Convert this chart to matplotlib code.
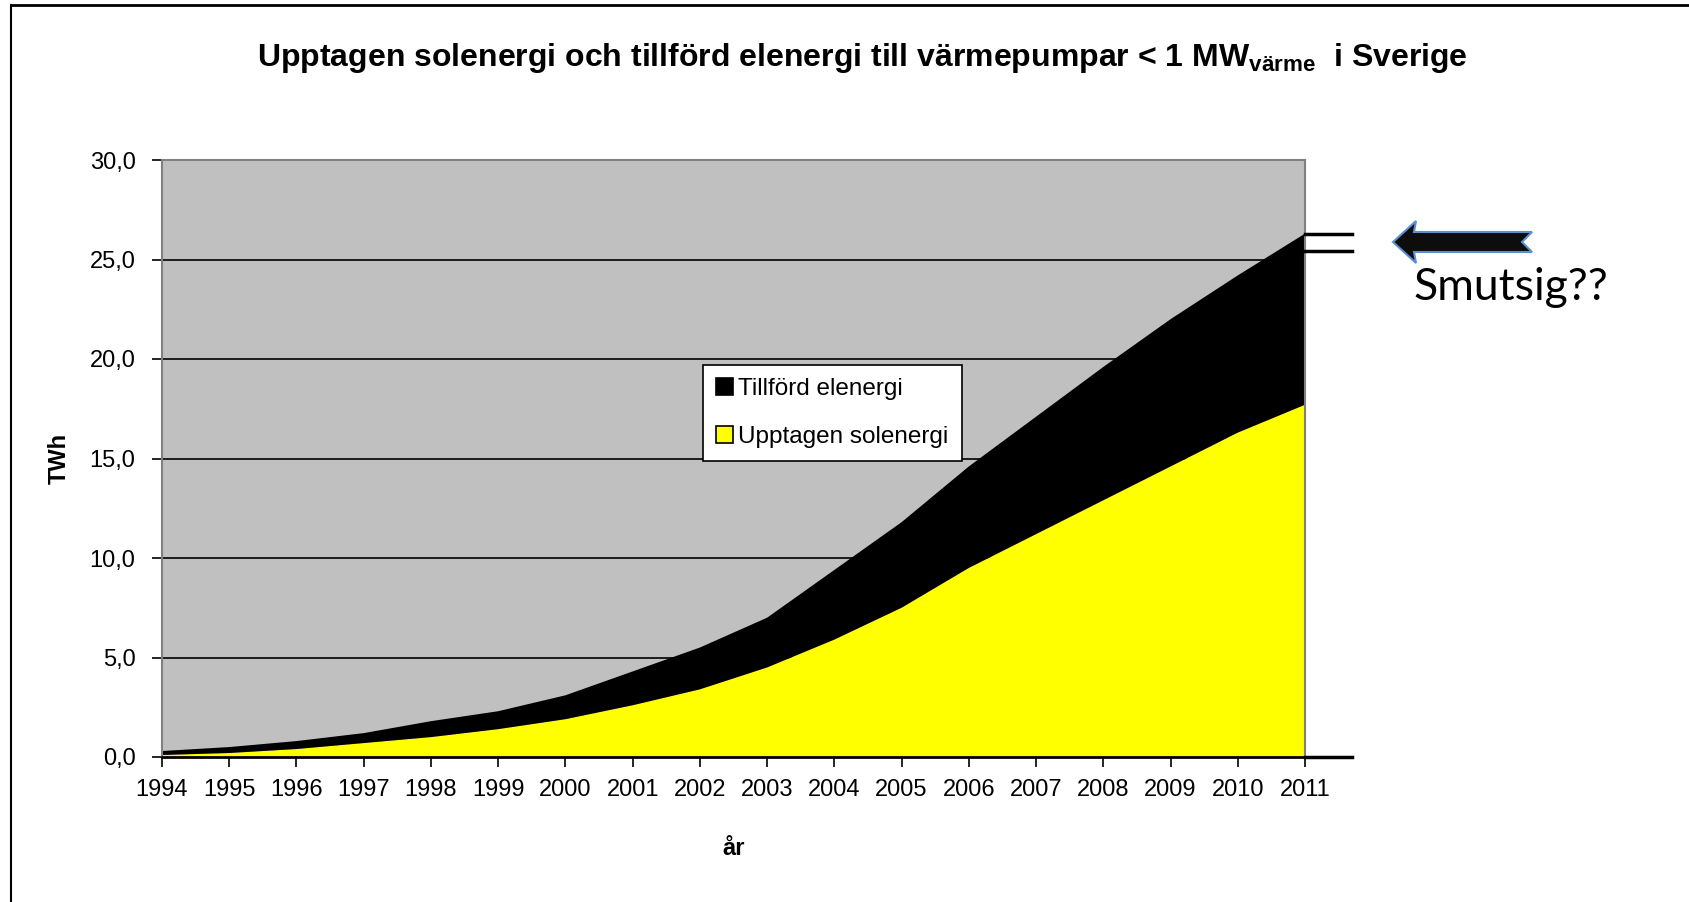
import numpy as np
import matplotlib
matplotlib.use("Agg")
import matplotlib.pyplot as plt
from matplotlib.patches import Polygon
from matplotlib.lines import Line2D

# data (TWh)
years = [1994, 1995, 1996, 1997, 1998, 1999, 2000, 2001, 2002,
         2003, 2004, 2005, 2006, 2007, 2008, 2009, 2010, 2011]
solenergi = [0.1, 0.2, 0.4, 0.7, 1.0, 1.4, 1.9, 2.6, 3.4,
             4.5, 5.9, 7.5, 9.5, 11.2, 12.9, 14.6, 16.3, 17.7]
totalt = [0.3, 0.5, 0.8, 1.2, 1.8, 2.3, 3.1, 4.3, 5.5,
          7.0, 9.4, 11.8, 14.6, 17.1, 19.6, 22.0, 24.2, 26.3]
elenergi = [t - s for t, s in zip(totalt, solenergi)]
yticks = [0, 5, 10, 15, 20, 25, 30]

plt.rcParams['font.family'] = ['Liberation Sans', 'DejaVu Sans']
plt.rcParams['mathtext.fontset'] = 'custom'
plt.rcParams['mathtext.rm'] = 'Liberation Sans:bold'

W, H = 1690, 902
fig = plt.figure(figsize=(W / 100, H / 100), dpi=100)

def fx(x):
    return x / W

def fy(y):
    return 1 - y / H

ax = fig.add_axes([fx(162), fy(757), fx(1305) - fx(162), fy(160) - fy(757)])
ax.set_facecolor('#c0c0c0')

ax.stackplot(years, solenergi, elenergi, colors=['#ffff00', '#000000'],
             labels=['Upptagen solenergi', 'Tillförd elenergi'], zorder=2)

ax.set_xlim(1994, 2011)
ax.set_ylim(0, 30)
ax.set_yticks(yticks)
ax.set_yticklabels([f"{v:.1f}".replace('.', ',') for v in yticks])
ax.set_xticks(years)
ax.set_xticklabels([str(y) for y in years])
ax.tick_params(labelsize=17, length=7, width=1.2, color='black')
ax.tick_params(axis='x', pad=9)
ax.tick_params(axis='y', pad=12)
for v in yticks[1:-1]:
    ax.axhline(v, color='black', lw=1.2, zorder=1)

for side in ['left', 'top', 'right']:
    ax.spines[side].set_color('#808080')
    ax.spines[side].set_linewidth(1.5)
ax.spines['bottom'].set_color('black')
ax.spines['bottom'].set_linewidth(2)
ax.spines['right'].set_zorder(3)

ax.set_ylabel('TWh', fontsize=17, fontweight='bold', labelpad=14)
ax.set_xlabel('år', fontsize=17, fontweight='bold', labelpad=26)

h, l = ax.get_legend_handles_labels()
leg = ax.legend(h[::-1], l[::-1], loc='upper left',
                bbox_to_anchor=(fx(703 - 162) / (fx(1305) - fx(162)), (fy(365) - fy(757)) / (fy(160) - fy(757))),
                fontsize=17.5, frameon=True, fancybox=False, handlelength=0.7, handleheight=0.7,
                handletextpad=0.2, borderpad=0.55, labelspacing=1.05, borderaxespad=0,
                facecolor='white', framealpha=1)
leg.get_frame().set_edgecolor('black')
leg.get_frame().set_linewidth(1.2)
for p in leg.get_patches():
    p.set_edgecolor('black')
    p.set_linewidth(1.2)

fig.text(fx(862), fy(58),
         r'Upptagen solenergi och tillförd elenergi till värmepumpar < 1 MW$_{\mathregular{värme}}$  i Sverige',
         ha='center', va='center', fontsize=23, fontweight='bold')

# slide frame (left and top edges)
fig.add_artist(Line2D([fx(11), fx(11)], [fy(5), 0], color='black', lw=1.5))
fig.add_artist(Line2D([fx(11), 1], [fy(5), fy(5)], color='black', lw=2))

# marker lines at the right edge
for yy in [234, 251]:
    fig.add_artist(Line2D([fx(1305), fx(1352)], [fy(yy), fy(yy)], color='black', lw=2.5))
fig.add_artist(Line2D([fx(1305), fx(1352)], [fy(757), fy(757)], color='black', lw=2.5))

# arrow
arrow_px = [(1393, 242), (1416, 221), (1414, 232), (1532, 232),
            (1522, 242), (1532, 252), (1414, 252), (1416, 263)]
fig.add_artist(Polygon([(fx(x), fy(y)) for x, y in arrow_px], closed=True,
                       transform=fig.transFigure, facecolor='#0d0d0d',
                       edgecolor='#5b8fd0', lw=1.5))

fig.text(fx(1413), fy(288), 'Smutsig??', fontsize=32, family=['Lato', 'DejaVu Sans'],
         ha='left', va='center')

fig.savefig('out.png', dpi=100)
